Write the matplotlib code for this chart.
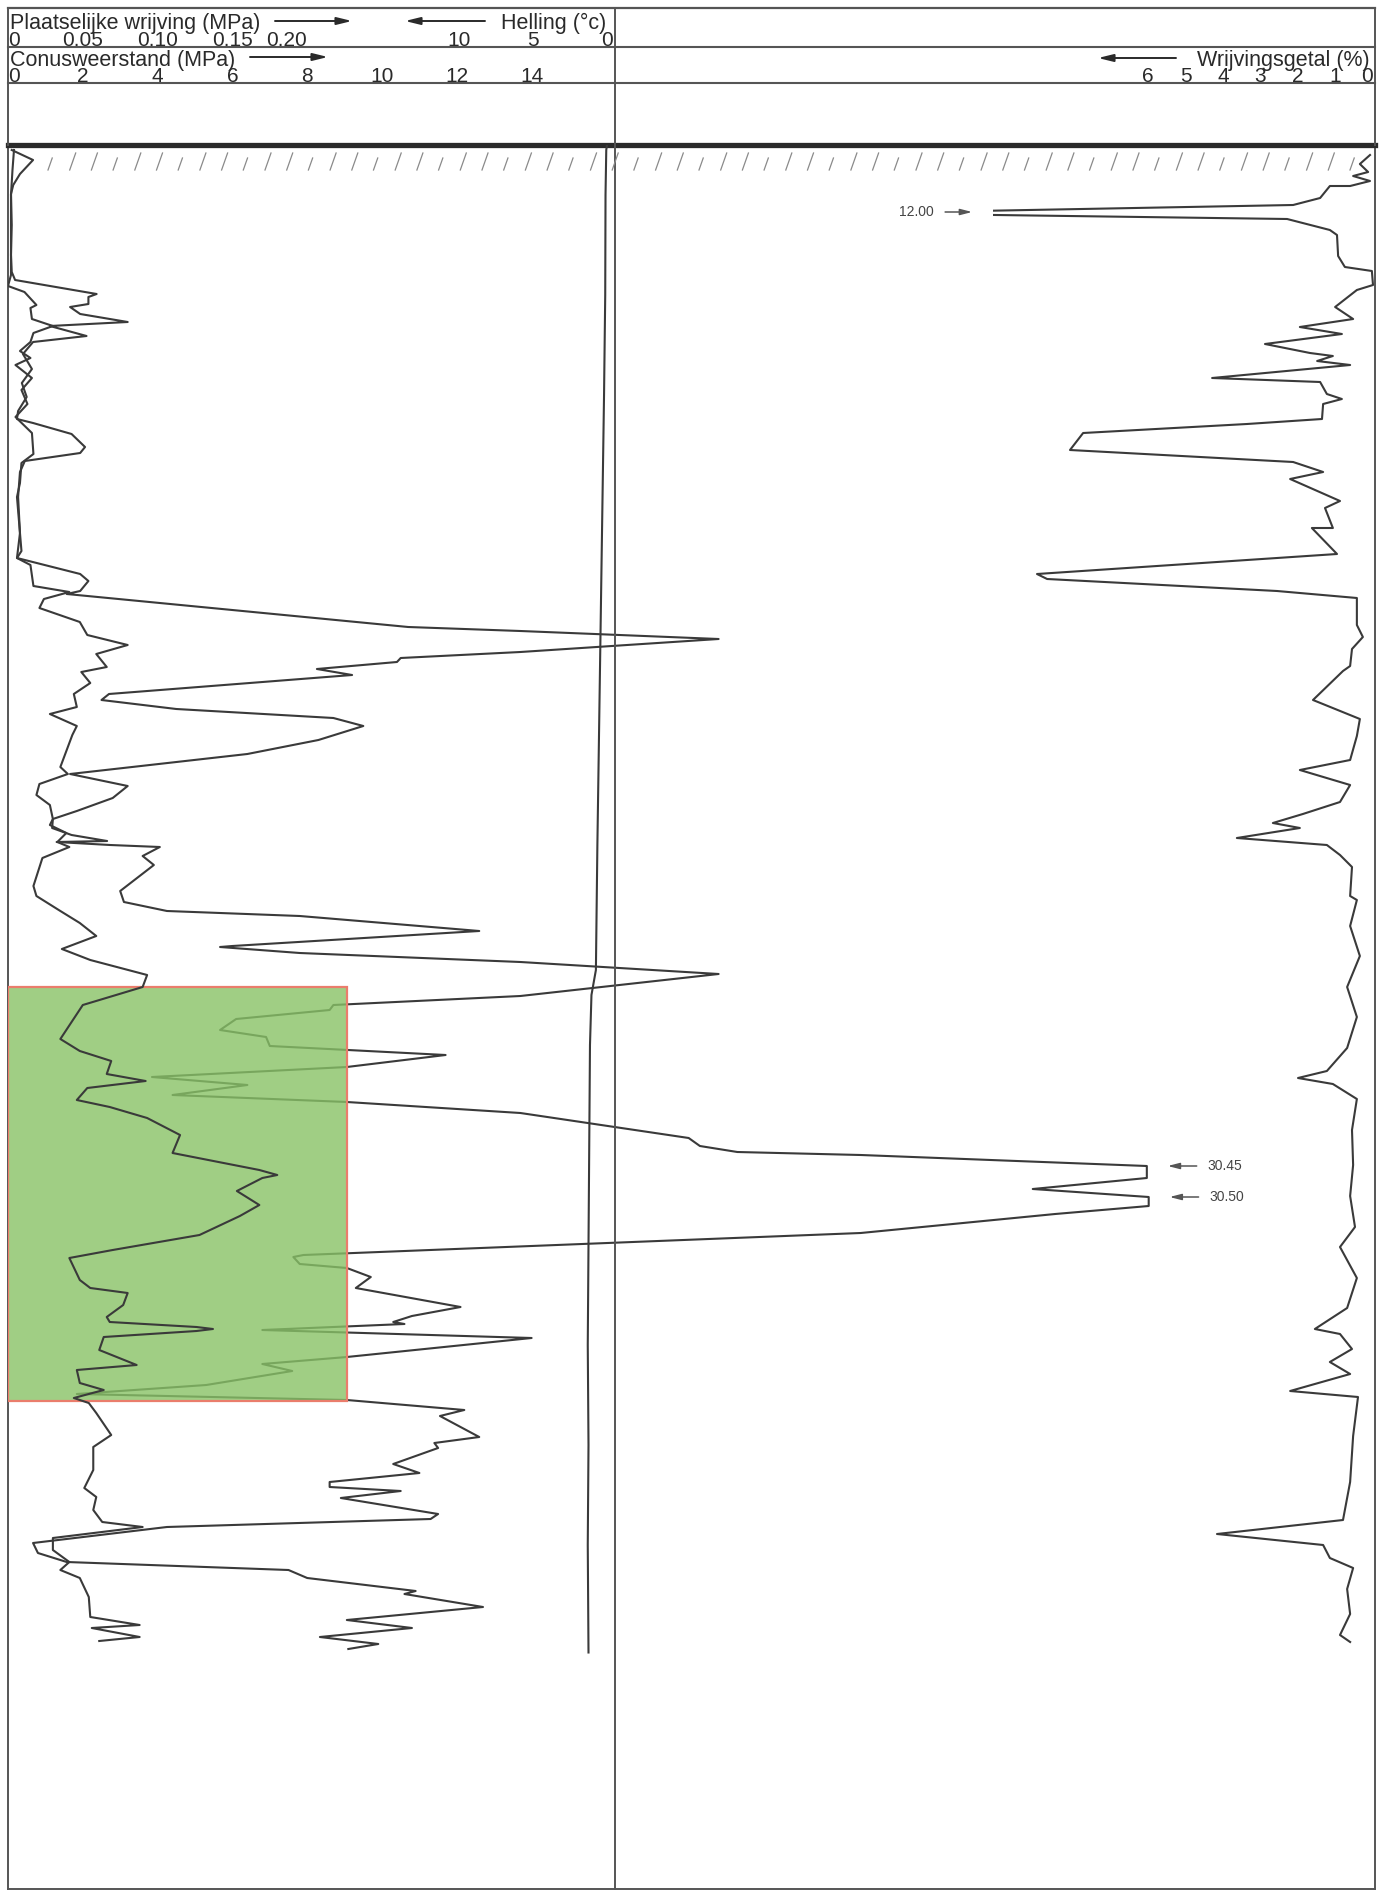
import numpy as np
import matplotlib
matplotlib.use("Agg")
import matplotlib.pyplot as plt
from matplotlib.transforms import blended_transform_factory
from matplotlib.patches import Rectangle

plt.rcParams['font.family'] = ['Liberation Sans', 'DejaVu Sans']

# ---------------- data (depth in m below surface) ----------------
qc_depth = [0.10, 0.30, 0.58, 0.80, 0.98, 1.6, 2.2, 2.54, 2.70, 2.98, 3.04, 3.18, 3.24, 3.38, 3.54,
            3.62, 3.82, 3.94, 4.18, 4.48, 4.76, 5.04, 5.32, 5.48, 5.56, 5.78, 6.04, 6.16, 6.32, 6.54,
            7.04, 7.76, 8.26, 8.58, 8.72, 8.92, 8.98, 9.64, 9.72, 9.88, 10.14, 10.26, 10.34, 10.48,
            10.60, 10.98, 11.10, 11.28, 11.46, 11.62, 11.90, 12.18, 12.58, 12.82, 13.06, 13.32, 13.48,
            13.66, 13.80, 13.92, 13.94, 14.00, 14.04, 14.22, 14.40, 14.92, 15.14, 15.32, 15.42, 15.72,
            16.02, 16.04, 16.16, 16.34, 16.58, 17.02, 17.20, 17.30, 17.48, 17.70, 17.84, 18.02, 18.10,
            18.20, 18.44, 18.64, 18.80, 19.00, 19.14, 19.36, 19.86, 20.02, 20.14, 20.20, 20.42, 20.66,
            20.88, 21.04, 21.22, 21.38, 21.76, 22.20, 22.24, 22.38, 22.46, 22.64, 22.86, 23.24, 23.42,
            23.54, 23.58, 23.70, 23.86, 24.24, 24.38, 24.52, 24.80, 24.98, 25.10, 25.30, 25.42, 25.84,
            25.96, 26.06, 26.38, 26.56, 26.74, 26.84, 26.92, 27.06, 27.38, 27.48, 27.64, 27.96, 28.16,
            28.34, 28.50, 28.66, 28.92, 28.98, 29.24, 29.50, 29.66, 29.84, 29.98, 30.08]
qc_value = [0.10, 0.67, 0.32, 0.14, 0.08, 0.10, 0.08, 0.10, 0.19, 2.37, 2.15, 2.15, 1.66, 1.93, 3.20,
            1.12, 2.10, 0.67, 0.40, 0.64, 0.37, 0.50, 0.27, 0.24, 0.67, 1.70, 2.06, 1.93, 0.45, 0.32,
            0.27, 0.32, 0.24, 1.93, 2.15, 1.93, 1.57, 10.7, 13.7, 19.0, 13.7, 10.5, 10.4, 8.26,
            9.2, 2.7, 2.5, 4.5, 8.7, 9.5, 8.3, 6.4, 1.66, 3.2, 2.8, 1.84, 1.2,
            1.18, 1.7, 2.65, 1.3, 2.73, 4.06, 3.6, 3.9, 3.0, 3.1, 4.25, 7.8, 12.6,
            6.0, 5.67, 7.8, 13.7, 19.0, 13.7, 8.7, 8.6, 6.1, 5.67, 6.9, 7.0, 9.1,
            11.7, 9.06, 3.85, 6.4, 4.4, 9.06, 13.7, 18.2, 18.5, 19.5, 22.8, 30.45, 30.45,
            27.4, 30.5, 30.5, 28.0, 22.8, 7.9, 7.63, 7.8, 9.06, 9.7, 9.3, 12.1, 10.8,
            10.3, 10.6, 6.8, 14.0, 9.06, 6.8, 7.6, 5.3, 1.84, 9.06, 12.2, 11.55, 12.6,
            11.4, 11.5, 10.3, 11.0, 8.6, 8.6, 10.5, 8.9, 11.5, 11.3, 4.25, 0.67, 0.8,
            1.57, 7.5, 8.0, 10.9, 10.6, 12.7, 9.06, 10.8, 8.34, 9.9, 9.1]

fs_depth = [0.10, 0.5, 1.0, 2.6, 2.82, 2.94, 3.20, 3.26, 3.48, 3.62, 3.76, 3.94, 4.12, 4.26, 4.40,
            4.66, 4.90, 5.18, 5.44, 5.76, 6.18, 6.36, 6.76, 7.04, 8.12, 8.26, 8.40, 8.82, 8.94, 9.08,
            9.26, 9.54, 9.80, 10.00, 10.18, 10.44, 10.54, 10.76, 10.98, 11.24, 11.38, 11.62, 11.80,
            12.44, 12.58, 12.78, 13.00, 13.20, 13.48, 13.60, 13.76, 13.94, 14.04, 14.26, 14.82, 15.02,
            15.32, 15.56, 15.82, 16.08, 16.30, 16.60, 16.84, 17.20, 17.88, 18.12, 18.32, 18.58, 18.72,
            18.86, 19.10, 19.24, 19.46, 19.80, 20.16, 20.50, 20.60, 20.66, 20.92, 21.20, 21.42, 21.80,
            22.10, 22.26, 22.70, 22.86, 22.96, 23.20, 23.44, 23.54, 23.64, 23.68, 23.72, 23.84, 24.10,
            24.40, 24.50, 24.76, 24.90, 25.06, 25.16, 25.36, 25.80, 26.04, 26.50, 26.86, 27.04, 27.30,
            27.54, 27.64, 27.86, 28.10, 28.34, 28.50, 28.66, 29.04, 29.44, 29.60, 29.66, 29.84, 29.92]
fs_value = [0.004, 0.003, 0.002, 0.002, 0.000, 0.011, 0.019, 0.015, 0.016, 0.030, 0.017, 0.015, 0.008, 0.015, 0.005,
            0.016, 0.009, 0.013, 0.005, 0.016, 0.017, 0.009, 0.008, 0.006, 0.009, 0.006, 0.015, 0.017, 0.041, 0.024,
            0.021, 0.048, 0.053, 0.080, 0.059, 0.066, 0.049, 0.055, 0.044, 0.046, 0.028, 0.046, 0.043,
            0.035, 0.040, 0.021, 0.019, 0.028, 0.030, 0.028, 0.039, 0.033, 0.041, 0.023, 0.017, 0.019,
            0.035, 0.048, 0.059, 0.036, 0.055, 0.093, 0.090, 0.050, 0.035, 0.048, 0.069, 0.066, 0.092,
            0.053, 0.046, 0.068, 0.093, 0.115, 0.110, 0.168, 0.180, 0.170, 0.153, 0.168, 0.155, 0.128,
            0.070, 0.041, 0.048, 0.055, 0.080, 0.077, 0.066, 0.068, 0.126, 0.137, 0.126, 0.064, 0.061,
            0.086, 0.046, 0.048, 0.064, 0.044, 0.054, 0.059, 0.069, 0.057, 0.057, 0.051, 0.059, 0.057,
            0.063, 0.090, 0.030, 0.030, 0.041, 0.035, 0.048, 0.054, 0.055, 0.088, 0.056, 0.088, 0.061]

rf_depth = [0.20, 0.38, 0.54, 0.62, 0.72, 0.82, 0.82, 1.06, 1.20, 1.34, 1.38, 1.48, 1.70, 1.80, 2.22,
            2.44, 2.52, 2.80, 2.90, 3.24, 3.48, 3.64, 3.78, 3.98, 4.16, 4.22, 4.32, 4.40, 4.66, 4.74,
            4.98, 5.08, 5.18, 5.48, 5.58, 5.76, 6.10, 6.34, 6.54, 6.68, 7.12, 7.26, 7.66, 7.66, 8.18,
            8.58, 8.68, 8.92, 9.06, 9.60, 9.84, 10.08, 10.42, 10.52, 11.10, 11.48, 11.82, 12.30, 12.50,
            12.80, 13.14, 13.38, 13.56, 13.66, 13.86, 14.00, 14.20, 14.44, 15.02, 15.10, 15.62, 16.22,
            16.84, 17.44, 18.06, 18.52, 18.66, 18.78, 19.08, 19.70, 20.40, 21.02, 21.64, 22.04, 22.66,
            23.26, 23.68, 23.78, 24.08, 24.34, 24.58, 24.92, 25.04, 25.82, 26.74, 27.50, 27.78, 28.00,
            28.26, 28.46, 28.88, 29.38, 29.80, 29.94]
rf_value = [0.08, 0.35, 0.13, 0.53, 0.08, 0.61, 1.15, 1.41, 2.13, 12.00, 12.00, 2.29, 1.15, 0.96, 0.93,
            0.75, 0.03, 0.00, 0.43, 1.01, 0.53, 1.95, 0.83, 2.88, 1.68, 1.07, 1.49, 0.61, 4.29, 1.41,
            1.23, 0.83, 1.33, 1.36, 3.36, 7.73, 8.08, 2.13, 1.33, 2.21, 0.88, 1.28, 1.07, 1.63, 0.96,
            8.96, 8.69, 2.56, 0.43, 0.43, 0.27, 0.56, 0.61, 0.80, 1.60, 0.35, 0.43, 0.61, 1.95,
            0.61, 0.88, 1.87, 2.67, 1.95, 3.63, 1.23, 0.88, 0.56, 0.61, 0.43, 0.61, 0.35,
            0.69, 0.43, 0.69, 1.23, 2.00, 1.07, 0.43, 0.56, 0.53, 0.61, 0.48, 0.88, 0.43,
            0.69, 1.55, 0.88, 0.56, 1.15, 0.61, 2.21, 0.40, 0.53, 0.61, 0.80, 4.16, 1.33,
            1.15, 0.53, 0.69, 0.61, 0.88, 0.61]

incl_depth = [0.0, 0.1, 1.0, 3.0, 5.0, 8.0, 10.0, 12.0, 14.0, 16.5, 17.0, 18.0, 20.0, 22.0, 24.0, 26.0, 28.0, 30.15]
incl_value = [0.0, 0.05, 0.1, 0.12, 0.2, 0.35, 0.45, 0.55, 0.65, 0.75, 1.05, 1.15, 1.2, 1.25, 1.3, 1.25, 1.3, 1.25]

qc_ticks = [0, 2, 4, 6, 8, 10, 12, 14]
fs_ticks = ["0", "0.05", "0.10", "0.15", "0.20"]
incl_ticks = [10, 5, 0]
rf_ticks = [6, 5, 4, 3, 2, 1, 0]

maxima_labels = ["12.00", "30.45", "30.50"]
highlight_qc = (0.0, 9.06)       # MPa
highlight_depth = (16.84, 25.12)  # m

# ---------------- layout (pixels) ----------------
W, H = 1385, 1892
X0, X1 = 8, 1375
Y_TOP, Y_L1, Y_L2, Y_HDR, Y_BOT = 8, 47, 83, 145, 1889
X_DIV = 615
QC_PX = 37.4          # px per MPa
FS_FACTOR = 40.0      # fs scale = qc scale / 40
DEPTH_PX = 50.0       # px per m
INC_ZERO, INC_PX = 607.0, 14.8
RF_ZERO, RF_PX, RF_LEFT = 1373.0, 37.5, 993.0

INK = '#3a3a3a'
fig = plt.figure(figsize=(W / 100, H / 100), dpi=100)
fig.patch.set_facecolor('white')


def fx(p):
    return p / W


def fy(p):
    return 1 - p / H


depth_max = (Y_BOT - Y_HDR) / DEPTH_PX
ax = fig.add_axes([fx(X0), fy(Y_BOT), fx(X1) - fx(X0), fy(Y_HDR) - fy(Y_BOT)])
ax.set_xlim(0, (X1 - X0) / QC_PX)
ax.set_ylim(depth_max, 0)
ax.set_xticks([]); ax.set_yticks([])
for s in ['left', 'right', 'bottom']:
    ax.spines[s].set_linewidth(1.4)
    ax.spines[s].set_color('#555555')
ax.spines['top'].set_linewidth(3.8)
ax.spines['top'].set_color('#2a2a2a')

ax_fs = ax.twiny()
ax_fs.set_xlim(0, (X1 - X0) / QC_PX / FS_FACTOR)
ax_fs.axis('off')

ax_inc = ax.twiny()
ax_inc.set_xlim((INC_ZERO - X0) / INC_PX, (INC_ZERO - X1) / INC_PX)
ax_inc.axis('off')

ax_rf = fig.add_axes([fx(RF_LEFT), fy(Y_BOT), fx(X1) - fx(RF_LEFT), fy(Y_HDR) - fy(Y_BOT)], sharey=ax)
ax_rf.set_xlim((RF_ZERO - RF_LEFT) / RF_PX, (RF_ZERO - X1) / RF_PX)
ax_rf.set_ylim(depth_max, 0)
ax_rf.axis('off')
ax_rf.patch.set_alpha(0)

lw = 1.5
ax.plot(qc_value, qc_depth, color=INK, lw=lw, zorder=3)
ax_fs.plot(fs_value, fs_depth, color=INK, lw=lw, zorder=3)
ax_inc.plot(incl_value, incl_depth, color=INK, lw=lw, zorder=3)
ax_rf.plot(rf_value, rf_depth, color=INK, lw=lw, zorder=3)

# highlight box
rect = Rectangle((highlight_qc[0], highlight_depth[0]), highlight_qc[1] - highlight_qc[0],
                 highlight_depth[1] - highlight_depth[0], facecolor='#88c266', alpha=0.8,
                 edgecolor='none', zorder=6)
ax.add_patch(rect)
rect2 = Rectangle((highlight_qc[0], highlight_depth[0]), highlight_qc[1] - highlight_qc[0],
                  highlight_depth[1] - highlight_depth[0], facecolor='none',
                  edgecolor='#ea7d6c', lw=1.6, zorder=7)
ax.add_patch(rect2)

# maxima annotations
i12 = rf_value.index(12.00)
ax_rf.annotate(maxima_labels[0], xy=((RF_ZERO - RF_LEFT) / RF_PX, rf_depth[i12]),
               xytext=(-59, 0), textcoords='offset pixels', ha='right', va='center',
               fontsize=10, color='#444444', annotation_clip=False,
               arrowprops=dict(arrowstyle='-|>,head_length=0.7,head_width=0.18', color='#555555',
                               lw=1.1, shrinkA=6, shrinkB=15))
i1 = qc_value.index(30.45)
i2 = qc_value.index(30.5)
for lab, idx in [(maxima_labels[1], i1), (maxima_labels[2], i2)]:
    ax.annotate(lab, xy=(qc_value[idx], qc_depth[idx]), xytext=(61, 0), textcoords='offset pixels',
                ha='left', va='center', fontsize=10, color='#444444',
                arrowprops=dict(arrowstyle='-|>,head_length=0.7,head_width=0.18', color='#555555',
                                lw=1.1, shrinkA=6, shrinkB=15))

# ---------------- overlay: frame, header, hatching ----------------
ov = fig.add_axes([0, 0, 1, 1], zorder=10)
ov.set_xlim(0, W); ov.set_ylim(H, 0)
ov.axis('off'); ov.patch.set_alpha(0)
fc = '#555555'
ov.plot([X0, X1], [Y_TOP, Y_TOP], color=fc, lw=1.6)
ov.plot([X0, X0], [Y_TOP, Y_HDR], color=fc, lw=1.4)
ov.plot([X1, X1], [Y_TOP, Y_HDR], color=fc, lw=1.4)
ov.plot([X0, X1], [Y_L1, Y_L1], color=fc, lw=1.5)
ov.plot([X0, X1], [Y_L2, Y_L2], color=fc, lw=1.5)
ov.plot([X_DIV, X_DIV], [Y_TOP, Y_BOT], color=fc, lw=1.4)

# hatch marks below the surface line
for k, hx in enumerate(np.arange(48, 1362, 21.7)):
    top = 153 if k % 3 else 158
    ov.plot([hx, hx + 6 * (170 - top) / 17], [170, top], color='#8a8a8a', lw=0.9)

lsz = 15.5
tsz = 15
tc = '#2a2a2a'
ov.text(X0 + 2, 29, 'Plaatselijke wrijving (MPa)', fontsize=lsz, color=tc, va='baseline', ha='left')
ov.text(X_DIV - 9, 29, 'Helling (°c)', fontsize=lsz, color=tc, va='baseline', ha='right')
ov.text(X0 + 2, 66, 'Conusweerstand (MPa)', fontsize=lsz, color=tc, va='baseline', ha='left')
ov.text(X1 - 5, 66, 'Wrijvingsgetal (%)', fontsize=lsz, color=tc, va='baseline', ha='right')

arw = dict(arrowstyle='-|>,head_length=0.9,head_width=0.22', color=tc, lw=1.4, shrinkA=0, shrinkB=0)
ov.annotate('', xy=(352, 21), xytext=(275, 21), arrowprops=arw)
ov.annotate('', xy=(405, 21), xytext=(485, 21), arrowprops=arw)
ov.annotate('', xy=(328, 57), xytext=(250, 57), arrowprops=arw)
ov.annotate('', xy=(1098, 58), xytext=(1176, 58), arrowprops=arw)

t_qc = blended_transform_factory(ax.transData, ov.transData)
t_fs = blended_transform_factory(ax_fs.transData, ov.transData)
t_inc = blended_transform_factory(ax_inc.transData, ov.transData)
t_rf = blended_transform_factory(ax_rf.transData, ov.transData)

for v in qc_ticks:
    ov.text(v, Y_L2 - 1, str(v), transform=t_qc, fontsize=tsz, color=tc, va='baseline',
            ha='left' if v == 0 else 'center')
for i, lab in enumerate(fs_ticks):
    ha = 'left' if i == 0 else ('right' if i == len(fs_ticks) - 1 else 'center')
    ov.text(float(lab), Y_L1 - 1, lab, transform=t_fs, fontsize=tsz, color=tc, va='baseline', ha=ha)
for v in incl_ticks:
    ov.text(v, Y_L1 - 1, str(v), transform=t_inc, fontsize=tsz, color=tc, va='baseline',
            ha='center')
for v in rf_ticks:
    ov.text(v, Y_L2 - 1, str(v), transform=t_rf, fontsize=tsz, color=tc, va='baseline',
            ha='right' if v == 0 else 'center')

fig.savefig('out.png', dpi=100, facecolor='white')
